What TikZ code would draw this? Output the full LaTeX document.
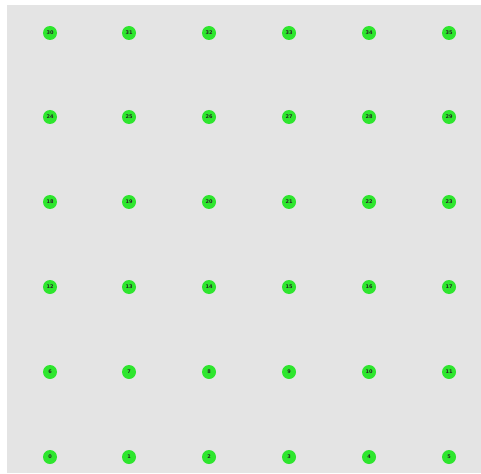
\documentclass[tikz,border=0pt]{standalone}
\usepackage{fontspec}
\setmainfont{DejaVu Sans}
\definecolor{bg}{HTML}{E4E4E4}
\definecolor{nodegreen}{HTML}{2EE62E}
\begin{document}
\begin{tikzpicture}[x=1pt,y=-1pt,
  vertex/.style={circle,fill=nodegreen,draw=none,minimum size=14pt,inner sep=0pt,
    font=\fontsize{5}{5}\selectfont\bfseries,text=black!85}]
\useasboundingbox (0,0) rectangle (481,473);
\fill[bg] (7,5) rectangle (481,473);
\foreach \r/\yy in {0/457,1/372,2/287,3/202,4/117,5/33}{
  \foreach \c/\xx in {0/50,1/129,2/209,3/289,4/369,5/449}{
    \pgfmathtruncatemacro{\n}{\r*6+\c}
    \node[vertex] (n\n) at (\xx,\yy) {\n};
  }
}
\end{tikzpicture}
\end{document}
